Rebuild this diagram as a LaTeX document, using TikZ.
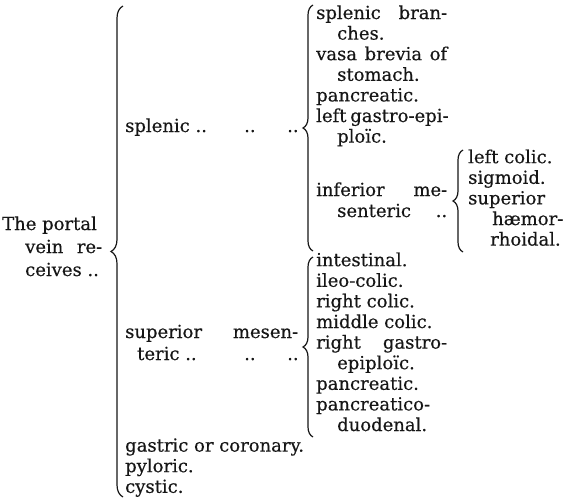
\documentclass[tikz,border=0pt]{standalone}
\usepackage{fontspec}
\setmainfont[FakeBold=0.4]{DejaVu Serif}
\usepackage{xcolor}
\definecolor{inkText}{HTML}{161616}
\usetikzlibrary{decorations.pathreplacing}

\begin{document}
\begin{tikzpicture}[x=1pt, y=-1pt,
    every node/.style={font=\fontsize{18}{20}\selectfont, text=inkText},
    item/.style={anchor=base west, inner sep=0pt},
    brc/.style={decorate, decoration={brace, amplitude=#1},
                line width=1.2pt, draw=inkText},
    brc/.default=10pt
]
\useasboundingbox (0,0) rectangle (565,499);
% The portal vein
\node[item] (pv-0) at (2, 230) {The portal};
\node[item] (pv-1) at (25, 253) {\makebox[77pt][s]{vein re-}};
\node[item] (pv-2) at (25, 276) {ceives ..};
% Its tributaries
\node[item] (spl) at (125, 132) {splenic ..};
\node[item] (smA) at (125, 338) {\makebox[173pt][s]{superior mesen-}};
\node[item] (smB) at (137, 360) {teric ..};
\foreach \x [count=\k] in {244, 287} {
    \node[item] (spl-d\k) at (\x, 132) {..};
    \node[item] (smB-d\k) at (\x, 360) {..};
}
\foreach \i/\t in {21/gastric or coronary., 22/pyloric., 23/cystic.} {
    \node[item] (gp-\i) at (125, 19+\i*20.6) {\t};
}
% Branches of the splenic
\foreach \i/\x/\t in {0/316/{\makebox[131pt][s]{splenic bran-}}, 1/337/ches.,
                      2/316/{\makebox[131pt][s]{vasa brevia of}}, 3/337/stomach.,
                      4/316/pancreatic., 5/316/{\makebox[131pt][s]{left gastro-epi-}},
                      6/337/ploïc.} {
    \node[item] (sb-\i) at (\x, 19+\i*20.6) {\t};
}
\node[item] (im-0) at (316, 196) {\makebox[131pt][s]{inferior me-}};
\node[item] (im-1) at (337, 217) {\makebox[110pt][s]{senteric ..}};
% Branches of the inferior mesenteric
\foreach \i/\x/\t in {7/468/left colic., 8/468/sigmoid., 9/468/superior,
                      10/492/hæmor-, 11/490/rhoidal.} {
    \node[item] (ib-\i) at (\x, 19+\i*20.6) {\t};
}
% Branches of the superior mesenteric
\foreach \i/\x/\t in {12/316/intestinal., 13/316/ileo-colic., 14/316/right colic.,
                      15/316/middle colic., 16/316/{\makebox[131pt][s]{right gastro-}},
                      17/337/epiploïc., 18/316/pancreatic., 19/316/pancreatico-,
                      20/337/duodenal.} {
    \node[item] (mb-\i) at (\x, 19+\i*20.6) {\t};
}
% Braces
\coordinate (bigT) at (123, 6);
\coordinate (bigB) at (123, 497);
\coordinate (splT) at (313, 5);
\coordinate (splB) at (313, 251);
\coordinate (infT) at (463, 150);
\coordinate (infB) at (463, 252);
\coordinate (smT) at (313, 257);
\coordinate (smB2) at (313, 437);
\draw[brc=12pt] (bigB) -- (bigT);
\draw[brc] (splB) -- (splT);
\draw[brc] (infB) -- (infT);
\draw[brc] (smB2) -- (smT);
\end{tikzpicture}
\end{document}
